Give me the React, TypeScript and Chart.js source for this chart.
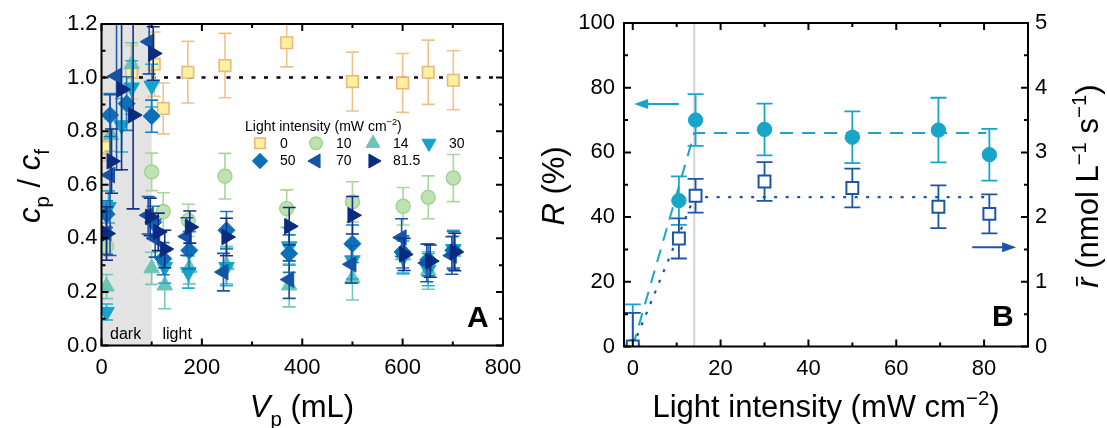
import React, { useEffect, useRef } from "react";
import { Chart, registerables } from "chart.js";
import { drawPoint } from "chart.js/helpers";

Chart.register(...registerables);

const FONT = "'Liberation Sans', Arial, Helvetica, sans-serif";

// ---------- Panel A: c_p / c_f versus permeate volume ----------
const volumeTicks = [0, 200, 400, 600, 800];
const ratioTicks = [0, 0.2, 0.4, 0.6, 0.8, 1.0, 1.2];
const darkPhaseEnd = 100; // mL filtered in the dark
const feedLevel = 1.0;

const vol_0 = [8, 60, 105, 123, 172, 246, 369, 500, 600, 651, 701];
const ratio_0 = [0.74, 1.02, 1.05, 0.885, 1.02, 1.045, 1.13, 0.985, 0.98, 1.02, 0.99];
const err_0 = [0.05, 0.1, 0.12, 0.095, 0.115, 0.12, 0.09, 0.11, 0.11, 0.12, 0.11];

const vol_10 = [10, 100, 123, 173, 246, 369, 500, 601, 651, 701];
const ratio_10 = [0.37, 0.648, 0.5, 0.467, 0.632, 0.511, 0.536, 0.52, 0.553, 0.625];
const err_10 = [0.05, 0.07, 0.07, 0.06, 0.085, 0.07, 0.075, 0.07, 0.08, 0.088];

const vol_14 = [10, 19, 60, 100, 126, 175, 249, 374, 500, 601, 651, 701];
const ratio_14 = [0.22, 0.785, 1.05, 0.288, 0.224, 0.29, 0.3, 0.224, 0.25, 0.336, 0.28, 0.349];
const err_14 = [0.045, 0.06, 0.08, 0.06, 0.087, 0.06, 0.07, 0.08, 0.08, 0.07, 0.07, 0.06];

const vol_30 = [10, 14, 40, 60, 100, 126, 173, 249, 374, 500, 601, 651, 701];
const ratio_30 = [0.125, 0.517, 0.822, 0.963, 0.97, 0.293, 0.274, 0.293, 0.37, 0.318, 0.33, 0.283, 0.36];
const err_30 = [0.03, 0.06, 0.1, 0.1, 0.08, 0.06, 0.06, 0.07, 0.07, 0.07, 0.06, 0.06, 0.07];

const vol_50 = [10, 17, 50, 100, 103, 123, 175, 249, 374, 500, 600, 651, 701];
const ratio_50 = [0.49, 0.86, 0.903, 0.856, 0.46, 0.324, 0.355, 0.43, 0.343, 0.38, 0.349, 0.32, 0.355];
const err_50 = [0.05, 0.08, 0.1, 0.06, 0.06, 0.06, 0.07, 0.07, 0.07, 0.07, 0.06, 0.06, 0.07];

const vol_70 = [10, 17, 30, 95, 93, 107, 170, 243, 374, 498, 598, 648, 698];
const ratio_70 = [0.42, 0.636, 1.006, 1.134, 0.486, 0.4, 0.407, 0.274, 0.246, 0.303, 0.403, 0.308, 0.336];
const err_70 = [0.08, 0.3, 0.35, 0.12, 0.07, 0.07, 0.07, 0.07, 0.07, 0.07, 0.07, 0.07, 0.07];

const vol_815 = [10, 20, 40, 63, 103, 97, 113, 126, 176, 249, 374, 500, 603, 655, 704];
const ratio_815 = [0.418, 0.688, 0.956, 0.86, 1.09, 0.48, 0.424, 0.36, 0.442, 0.405, 0.445, 0.486, 0.34, 0.315, 0.349];
const err_815 = [0.1, 0.12, 0.3, 0.35, 0.1, 0.07, 0.07, 0.07, 0.06, 0.07, 0.07, 0.07, 0.06, 0.06, 0.07];

const intensityLabels = ["0", "10", "14", "30", "50", "70", "81.5"];

// ---------- Panel B: rejection and mean rate versus light intensity ----------
const intensityTicks = [0, 20, 40, 60, 80];
const rejectionTicks = [0, 20, 40, 60, 80, 100];
const rateTicks = [0, 1, 2, 3, 4, 5];

const intensity = [0, 10.5, 14.3, 30, 50, 69.6, 81.2];
const rejection = [0, 45.1, 70, 67.1, 64.7, 66.9, 59.3];
const rejectionErr = [13, 7.5, 8, 8, 8, 10, 8];
const meanRate = [0, 1.67, 2.33, 2.55, 2.45, 2.16, 2.05];
const meanRateErr = [0.52, 0.31, 0.26, 0.3, 0.3, 0.33, 0.3];

const fitIntensity = [0, 14, 80.5];
const fitRejection = [0, 66, 66];
const fitRate = [0, 2.31, 2.31];
const saturationIntensity = 14;

const rejectionArrow = { from: 10.5, to: 0.3, level: 75 };
const rateArrow = { from: 77.3, to: 87.3, level: 1.535 };

// ---------- marker / colour styles ----------
const stylesA = [
  { style: "rect", rot: 0, r: 8.2, fill: "#fdf1a0", stroke: "#f0b678", bw: 1.6, err: "#f1c18c" },
  { style: "circle", rot: 0, r: 7, fill: "#bee2b2", stroke: "#9fd18f", bw: 1.4, err: "#a7d79a" },
  { style: "triangle", rot: 0, r: 9, fill: "#6cc4b5", stroke: "#6cc4b5", bw: 1, err: "#74c7b9" },
  { style: "triangle", rot: 180, r: 9, fill: "#15a3c9", stroke: "#15a3c9", bw: 1, err: "#2aabcf" },
  { style: "rectRot", rot: 0, r: 8.5, fill: "#0b70b7", stroke: "#0b70b7", bw: 1, err: "#1a78bd" },
  { style: "triangle", rot: 270, r: 9, fill: "#1453a5", stroke: "#1453a5", bw: 1, err: "#1a57a7" },
  { style: "triangle", rot: 90, r: 9, fill: "#0a2b80", stroke: "#0a2b80", bw: 1, err: "#12318a" },
];
const seriesA = [
  [vol_0, ratio_0, err_0],
  [vol_10, ratio_10, err_10],
  [vol_14, ratio_14, err_14],
  [vol_30, ratio_30, err_30],
  [vol_50, ratio_50, err_50],
  [vol_70, ratio_70, err_70],
  [vol_815, ratio_815, err_815],
];

const CYAN = "#17a5c9";
const BLUE = "#1a55a8";

// ---------- drawing helpers ----------
type Seg = { t: string; i?: boolean; sub?: boolean; sup?: boolean; bar?: boolean; b?: boolean };

function segFont(s: Seg, size: number) {
  const sz = s.sub || s.sup ? size * 0.66 : size;
  return `${s.i ? "italic " : ""}${s.b ? "bold " : ""}${sz}px ${FONT}`;
}

function drawRich(ctx: CanvasRenderingContext2D, segs: Seg[], size: number, x: number, y: number, angle = 0, align: "center" | "left" = "center") {
  ctx.save();
  ctx.translate(x, y);
  ctx.rotate(angle);
  ctx.textAlign = "left";
  ctx.textBaseline = "alphabetic";
  ctx.fillStyle = "#000";
  let w = 0;
  for (const s of segs) {
    ctx.font = segFont(s, size);
    w += ctx.measureText(s.t).width;
  }
  let cx = align === "center" ? -w / 2 : 0;
  for (const s of segs) {
    ctx.font = segFont(s, size);
    const dy = s.sub ? size * 0.3 : s.sup ? -size * 0.4 : 0;
    const sw = ctx.measureText(s.t).width;
    ctx.fillText(s.t, cx, dy);
    if (s.bar) {
      ctx.strokeStyle = "#000";
      ctx.lineWidth = size * 0.06;
      ctx.beginPath();
      ctx.moveTo(cx + sw * 0.15, -size * 0.68);
      ctx.lineTo(cx + sw * 1.05, -size * 0.68);
      ctx.stroke();
    }
    cx += sw;
  }
  ctx.restore();
}

const errorBarPlugin = {
  id: "errorBars",
  beforeDatasetDraw(chart: any, args: any) {
    const ds = chart.data.datasets[args.index];
    if (!ds.errors) return;
    const meta = args.meta;
    const xs = chart.scales[meta.xAxisID];
    const ys = chart.scales[meta.yAxisID];
    const a = chart.chartArea;
    const ctx: CanvasRenderingContext2D = chart.ctx;
    ctx.save();
    ctx.beginPath();
    ctx.rect(a.left, a.top, a.right - a.left, a.bottom - a.top);
    ctx.clip();
    ctx.strokeStyle = ds.errorColor;
    ctx.lineWidth = ds.errorWidth || 1.6;
    const cap = ds.capHalf || 6.5;
    ds.data.forEach((p: any, i: number) => {
      const e = ds.errors[i];
      const x = xs.getPixelForValue(p.x);
      const yt = ys.getPixelForValue(p.y + e);
      const yb = ys.getPixelForValue(p.y - e);
      ctx.beginPath();
      ctx.moveTo(x, yt);
      ctx.lineTo(x, yb);
      ctx.moveTo(x - cap, yt);
      ctx.lineTo(x + cap, yt);
      ctx.moveTo(x - cap, yb);
      ctx.lineTo(x + cap, yb);
      ctx.stroke();
    });
    ctx.restore();
  },
};

type TickSpec = { id: string; sides: string[]; minor: number };

function drawFrame(chart: any, specs: TickSpec[]) {
  const ctx: CanvasRenderingContext2D = chart.ctx;
  const a = chart.chartArea;
  ctx.save();
  ctx.strokeStyle = "#000";
  ctx.lineWidth = 2;
  ctx.beginPath();
  for (const sp of specs) {
    const s = chart.scales[sp.id];
    const majors: number[] = s.ticks.map((t: any) => t.value);
    const vals: [number, number][] = majors.map((v) => [v, 7]);
    const start = Math.ceil(Math.max(s.min, 0) / sp.minor) * sp.minor;
    for (let v = start; v < s.max - 1e-9; v += sp.minor) {
      if (!majors.some((m) => Math.abs(m - v) < 1e-6)) vals.push([v, 4]);
    }
    for (const [v, len] of vals) {
      const p = s.getPixelForValue(v);
      for (const side of sp.sides) {
        if (side === "bottom") { ctx.moveTo(p, a.bottom); ctx.lineTo(p, a.bottom - len); }
        if (side === "top") { ctx.moveTo(p, a.top); ctx.lineTo(p, a.top + len); }
        if (side === "left") { ctx.moveTo(a.left, p); ctx.lineTo(a.left + len, p); }
        if (side === "right") { ctx.moveTo(a.right, p); ctx.lineTo(a.right - len, p); }
      }
    }
  }
  ctx.stroke();
  ctx.strokeRect(a.left, a.top, a.right - a.left, a.bottom - a.top);
  ctx.restore();
}

function drawMarker(ctx: CanvasRenderingContext2D, st: any, x: number, y: number, scale = 1) {
  ctx.save();
  ctx.fillStyle = st.fill;
  ctx.strokeStyle = st.stroke;
  ctx.lineWidth = st.bw;
  drawPoint(ctx, { pointStyle: st.style, rotation: st.rot, radius: st.r * scale, borderWidth: st.bw } as any, x, y);
  ctx.restore();
}

const tickFont = { family: FONT, size: 22 };

function fixedTicks(values: number[]) {
  return (s: any) => {
    s.ticks = values.map((v) => ({ value: v }));
  };
}

// ---------- Panel A ----------
function PanelA() {
  const ref = useRef<HTMLCanvasElement>(null);
  useEffect(() => {
    const canvas = ref.current!;
    const datasets: any[] = seriesA.map(([xs, ys, es], k) => {
      const st = stylesA[k];
      return {
        type: "scatter",
        label: intensityLabels[k],
        data: xs.map((v, i) => ({ x: v, y: ys[i] })),
        errors: es,
        errorColor: st.err,
        pointStyle: st.style,
        pointRotation: st.rot,
        pointRadius: st.r,
        pointHoverRadius: st.r,
        pointBackgroundColor: st.fill,
        pointBorderColor: st.stroke,
        pointBorderWidth: st.bw,
        order: seriesA.length - k,
      };
    });

    const backdrop = {
      id: "backdrop",
      beforeDatasetsDraw(chart: any) {
        const { ctx, chartArea: a, scales } = chart;
        const x0 = scales.x.getPixelForValue(0);
        const x1 = scales.x.getPixelForValue(darkPhaseEnd);
        ctx.save();
        ctx.fillStyle = "#e3e3e3";
        ctx.fillRect(x0, a.top, x1 - x0, a.bottom - a.top);
        const yl = scales.y.getPixelForValue(feedLevel);
        ctx.strokeStyle = "#000";
        ctx.lineWidth = 2.5;
        ctx.setLineDash([4, 8.5]);
        ctx.beginPath();
        ctx.moveTo(a.left, yl);
        ctx.lineTo(a.right, yl);
        ctx.stroke();
        ctx.restore();
      },
    };

    const overlay = {
      id: "overlayA",
      afterDraw(chart: any) {
        const ctx: CanvasRenderingContext2D = chart.ctx;
        drawFrame(chart, [
          { id: "x", sides: ["bottom", "top"], minor: 100 },
          { id: "y", sides: ["left", "right"], minor: 0.1 },
        ]);
        // phase labels
        drawRich(ctx, [{ t: "dark" }], 16, 110, 339, 0, "left");
        drawRich(ctx, [{ t: "light" }], 16, 162.5, 339, 0, "left");
        drawRich(ctx, [{ t: "A", b: true }], 30, 467, 327, 0, "left");
        // legend
        drawRich(ctx, [{ t: "Light intensity (mW cm" }, { t: "−2", sup: true }, { t: ")" }], 14, 245, 130.5, 0, "left");
        const colX = [260, 316, 373, 429];
        const rowY = [143.3, 161];
        stylesA.forEach((st, k) => {
          const cx = colX[k % 4];
          const cy = rowY[Math.floor(k / 4)];
          drawMarker(ctx, st, cx, cy, 0.9);
          ctx.save();
          ctx.fillStyle = "#000";
          ctx.font = `14px ${FONT}`;
          ctx.textBaseline = "middle";
          ctx.fillText(intensityLabels[k], cx + 20, cy + 0.5);
          ctx.restore();
        });
        // axis titles
        drawRich(ctx, [{ t: "V", i: true }, { t: "p", sub: true }, { t: " (mL)" }], 31, 302, 417);
        drawRich(
          ctx,
          [{ t: "c", i: true }, { t: "p", sub: true }, { t: " / " }, { t: "c", i: true }, { t: "f", sub: true }],
          31,
          40,
          186,
          -Math.PI / 2
        );
      },
    };

    const chart = new Chart(canvas, {
      type: "scatter",
      data: { datasets },
      options: {
        animation: false,
        responsive: false,
        devicePixelRatio: 1,
        layout: { padding: { left: 0, top: 24, right: 37, bottom: 0 } },
        plugins: { legend: { display: false }, tooltip: { enabled: false } },
        scales: {
          x: {
            type: "linear",
            min: 0,
            max: 800,
            grid: { display: false, drawTicks: false },
            border: { display: false },
            ticks: { font: tickFont, color: "#000", padding: 9, maxRotation: 0 },
            afterBuildTicks: fixedTicks(volumeTicks),
            afterFit: (s: any) => {
              s.height = 428 - 345.5;
              s.paddingLeft = 0;
              s.paddingRight = 0;
            },
          },
          y: {
            type: "linear",
            min: 0,
            max: 1.2,
            grid: { display: false, drawTicks: false },
            border: { display: false },
            ticks: { font: tickFont, color: "#000", padding: 4, callback: (v: any) => Number(v).toFixed(1) },
            afterBuildTicks: fixedTicks(ratioTicks),
            afterFit: (s: any) => {
              s.width = 101.5;
              s.paddingTop = 0;
              s.paddingBottom = 0;
            },
          },
        },
      } as any,
      plugins: [backdrop, errorBarPlugin, overlay],
    });
    return () => chart.destroy();
  }, []);
  return <canvas ref={ref} width={540} height={428} style={{ position: "absolute", left: 0, top: 0 }} />;
}

// ---------- Panel B ----------
function PanelB() {
  const ref = useRef<HTMLCanvasElement>(null);
  useEffect(() => {
    const canvas = ref.current!;
    const datasets: any[] = [
      {
        type: "scatter",
        label: "R",
        yAxisID: "y",
        data: intensity.map((v, i) => ({ x: v, y: rejection[i] })),
        errors: rejectionErr,
        errorColor: CYAN,
        errorWidth: 1.8,
        capHalf: 8,
        pointStyle: "circle",
        pointRadius: 7.2,
        pointBackgroundColor: CYAN,
        pointBorderColor: CYAN,
        pointBorderWidth: 1,
        order: 1,
      },
      {
        type: "scatter",
        label: "r",
        yAxisID: "y2",
        data: intensity.map((v, i) => ({ x: v, y: meanRate[i] })),
        errors: meanRateErr,
        errorColor: BLUE,
        errorWidth: 1.8,
        capHalf: 8,
        pointStyle: "rect",
        pointRadius: 8.4,
        pointBackgroundColor: "#ffffff",
        pointBorderColor: BLUE,
        pointBorderWidth: 2,
        order: 0,
      },
      {
        type: "line",
        label: "R fit",
        yAxisID: "y",
        data: fitIntensity.map((v, i) => ({ x: v, y: fitRejection[i] })),
        borderColor: CYAN,
        borderWidth: 2,
        borderDash: [13, 9],
        pointRadius: 0,
        fill: false,
        order: 3,
      },
      {
        type: "line",
        label: "r fit",
        yAxisID: "y2",
        data: fitIntensity.map((v, i) => ({ x: v, y: fitRate[i] })),
        borderColor: BLUE,
        borderWidth: 2.2,
        borderDash: [3, 8.5],
        pointRadius: 0,
        fill: false,
        order: 4,
      },
    ];

    const backdrop = {
      id: "backdropB",
      beforeDatasetsDraw(chart: any) {
        const { ctx, chartArea: a, scales } = chart;
        const x = scales.x.getPixelForValue(saturationIntensity);
        ctx.save();
        ctx.strokeStyle = "#d4d4d4";
        ctx.lineWidth = 2;
        ctx.beginPath();
        ctx.moveTo(x, a.top);
        ctx.lineTo(x, a.bottom);
        ctx.stroke();
        ctx.restore();
      },
    };

    const arrow = (ctx: CanvasRenderingContext2D, x0: number, x1: number, y: number, color: string) => {
      const dir = Math.sign(x1 - x0);
      ctx.save();
      ctx.strokeStyle = color;
      ctx.fillStyle = color;
      ctx.lineWidth = 2;
      ctx.beginPath();
      ctx.moveTo(x0, y);
      ctx.lineTo(x1 - dir * 10, y);
      ctx.stroke();
      ctx.beginPath();
      ctx.moveTo(x1, y);
      ctx.lineTo(x1 - dir * 14, y - 5);
      ctx.lineTo(x1 - dir * 14, y + 5);
      ctx.closePath();
      ctx.fill();
      ctx.restore();
    };

    const overlay = {
      id: "overlayB",
      afterDraw(chart: any) {
        const ctx: CanvasRenderingContext2D = chart.ctx;
        const { x, y, y2 } = chart.scales;
        drawFrame(chart, [
          { id: "x", sides: ["bottom", "top"], minor: 10 },
          { id: "y", sides: ["left"], minor: 10 },
          { id: "y2", sides: ["right"], minor: 0.5 },
        ]);
        arrow(
          ctx,
          x.getPixelForValue(rejectionArrow.from),
          x.getPixelForValue(rejectionArrow.to),
          y.getPixelForValue(rejectionArrow.level),
          CYAN
        );
        arrow(
          ctx,
          x.getPixelForValue(rateArrow.from),
          x.getPixelForValue(rateArrow.to),
          y2.getPixelForValue(rateArrow.level),
          BLUE
        );
        drawRich(ctx, [{ t: "B", b: true }], 30, 482, 326, 0, "left");
        drawRich(ctx, [{ t: "Light intensity (mW cm" }, { t: "−2", sup: true }, { t: ")" }], 31, 316, 417);
        drawRich(ctx, [{ t: "R", i: true }, { t: " (%)" }], 31, 53.5, 186, -Math.PI / 2);
        drawRich(
          ctx,
          [
            { t: "r", i: true, bar: true },
            { t: " (nmol L" },
            { t: "−1", sup: true },
            { t: " s" },
            { t: "−1", sup: true },
            { t: ")" },
          ],
          31,
          588,
          186,
          -Math.PI / 2
        );
      },
    };

    const chart = new Chart(canvas, {
      type: "scatter",
      data: { datasets },
      options: {
        animation: false,
        responsive: false,
        devicePixelRatio: 1,
        layout: { padding: { left: 0, top: 23, right: 0, bottom: 0 } },
        plugins: { legend: { display: false }, tooltip: { enabled: false } },
        scales: {
          x: {
            type: "linear",
            min: -2,
            max: 90,
            grid: { display: false, drawTicks: false },
            border: { display: false },
            ticks: { font: tickFont, color: "#000", padding: 9, maxRotation: 0 },
            afterBuildTicks: fixedTicks(intensityTicks),
            afterFit: (s: any) => {
              s.height = 428 - 346.5;
              s.paddingLeft = 0;
              s.paddingRight = 0;
            },
          },
          y: {
            type: "linear",
            position: "left",
            min: 0,
            max: 100,
            grid: { display: false, drawTicks: false },
            border: { display: false },
            ticks: { font: tickFont, color: "#000", padding: 9 },
            afterBuildTicks: fixedTicks(rejectionTicks),
            afterFit: (s: any) => {
              s.width = 114;
              s.paddingTop = 0;
              s.paddingBottom = 0;
            },
          },
          y2: {
            type: "linear",
            position: "right",
            min: 0,
            max: 5,
            grid: { display: false, drawTicks: false },
            border: { display: false },
            ticks: { font: tickFont, color: "#000", padding: 7 },
            afterBuildTicks: fixedTicks(rateTicks),
            afterFit: (s: any) => {
              s.width = 79;
              s.paddingTop = 0;
              s.paddingBottom = 0;
            },
          },
        },
      } as any,
      plugins: [backdrop, errorBarPlugin, overlay],
    });
    return () => chart.destroy();
  }, []);
  return <canvas ref={ref} width={597} height={428} style={{ position: "absolute", left: 510, top: 0 }} />;
}

export default function App() {
  return (
    <div style={{ position: "fixed", left: 0, top: 0, width: 1107, height: 428, background: "#fff", overflow: "hidden" }}>
      <PanelA />
      <PanelB />
    </div>
  );
}
